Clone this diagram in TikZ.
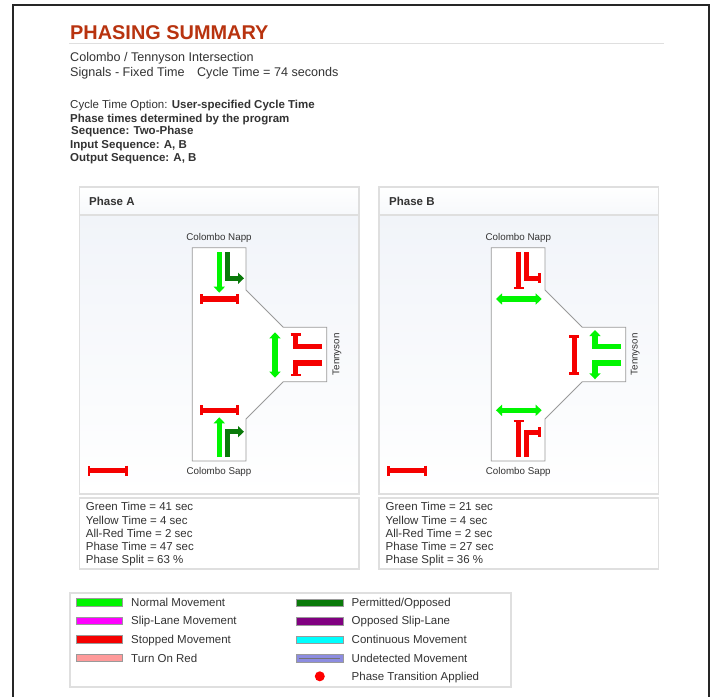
\documentclass[tikz,border=0pt]{standalone}
\usepackage{fontspec}
\setmainfont{Liberation Sans}
\usetikzlibrary{arrows.meta}
\definecolor{titlered}{HTML}{B8330F}
\definecolor{textgrey}{HTML}{333333}
\definecolor{edgegrey}{HTML}{DFDFDF}
\definecolor{roadgrey}{HTML}{9A9A9A}
\definecolor{paleblue}{HTML}{F1F4F9}
\definecolor{normalgreen}{HTML}{00F500}
\definecolor{permitgreen}{HTML}{0A7A0A}
\definecolor{stopred}{HTML}{F50000}
\definecolor{turnred}{HTML}{FF9A9A}
\definecolor{undetblue}{HTML}{8C8CE0}
\definecolor{sliplane}{HTML}{FF00FF}
\definecolor{opposedslip}{HTML}{800080}
\definecolor{contcyan}{HTML}{00FFFF}
\tikzset{
  label/.style={anchor=base west,inner sep=0pt,text=textgrey,font=\fontsize{12.6}{14}\selectfont},
  info/.style={anchor=base west,inner sep=0pt,text=textgrey,font=\fontsize{11.5}{13}\selectfont},
  head/.style={anchor=base west,inner sep=0pt,text=textgrey,font=\fontsize{11.5}{13}\selectfont\bfseries},
  road/.style={anchor=base,inner sep=0pt,text=textgrey,font=\fontsize{9.8}{12}\selectfont},
  panel/.style={draw=edgegrey,line width=1.3pt},
  junction/.style={draw=roadgrey,fill=white,line width=0.8pt},
  go/.style={line width=5.4pt,normalgreen,>={Triangle[length=6pt,width=11pt]}},
  permit/.style={line width=5.4pt,permitgreen,>={Triangle[length=6pt,width=11pt]}},
  stopbar/.style={line width=5.2pt,stopred,{Bar[width=10pt,line width=2.6pt]}-{Bar[width=10pt,line width=2.6pt]}},
  stopend/.style={line width=5.2pt,stopred,-{Bar[width=10pt,line width=2.6pt]}},
  swatch/.style={draw=roadgrey,line width=0.7pt}
}
\begin{document}
\begin{tikzpicture}[x=1pt,y=-1pt,line join=miter]
\useasboundingbox (0,0) rectangle (716,697);
\fill[white] (0,0) rectangle (716,697);
\draw[line width=2pt,black!85] (13.3,697) -- (13.3,5) -- (709.3,5) -- (709.3,697);
% heading
\node[anchor=base west,inner sep=0pt,text=titlered,font=\fontsize{19.9}{22}\selectfont\bfseries] (title) at (70,39.5) {PHASING SUMMARY};
\draw[line width=1pt,edgegrey] (69,43.5) -- (664,43.5);
\node[label] (site) at (70,61) {Colombo / Tennyson Intersection};
\node[label] (signals) at (70,76) {Signals - Fixed Time\hspace{1em}Cycle Time = 74 seconds};
\node[info] (option) at (70,108.3) {Cycle Time Option: \textbf{User-specified Cycle Time}};
\node[info] (times) at (70,122.3) {\textbf{Phase times determined by the program}};
\node[info] (sequence) at (71,134.3) {\textbf{Sequence: Two-Phase}};
\node[info] (input) at (70,148.3) {\textbf{Input Sequence: A, B}};
\node[info] (output) at (70,161) {\textbf{Output Sequence: A, B}};
% phase A
\draw[panel,top color=paleblue,bottom color=white] (79.5,215) rectangle (359,494);
\draw[panel,top color=white,bottom color=paleblue!60] (79.5,187) rectangle (359,215);
\node[head] (headA) at (89,205.7) {Phase A};
\draw[junction] (192.3,247.7) -- (246,247.7) -- (246,290) -- (283.3,327.3) -- (326.7,327.3) -- (326.7,381.7) -- (283.3,381.7) -- (246,419) -- (246,461) -- (192.3,461) -- cycle;
\node[road] (nappA) at (219,240.7) {Colombo Napp};
\node[road] (sappA) at (219,474.3) {Colombo Sapp};
\node[road,rotate=90] (tenA) at (339.3,354.3) {Tennyson};
\draw[go,->] (219.3,252.3) -- (219.3,292.7);
\draw[permit,->] (227.3,252.3) -- (227.3,278.3) -- (244,278.3);
\draw[stopbar] (200,299) -- (238.7,299);
\draw[go,<->] (275,332.3) -- (275,377.7);
\draw[stopend] (322,346.3) -- (295.7,346.3) -- (295.7,333.3);
\draw[stopend] (322,363) -- (295.7,363) -- (295.7,376.3);
\draw[stopbar] (200,410.3) -- (238.7,410.3);
\draw[go,->] (219.3,457) -- (219.3,417.3);
\draw[permit,->] (227.3,457) -- (227.3,431.7) -- (244,431.7);
\draw[stopbar] (87.8,470.7) -- (127.5,470.7);
\draw[panel] (79.5,498) rectangle (359,569);
\node[info] (greenA) at (85.7,510.3) {Green Time = 41 sec};
\node[info] (yellowA) at (85.7,524.3) {Yellow Time = 4 sec};
\node[info] (allredA) at (85.7,537.7) {All-Red Time = 2 sec};
\node[info] (phaseA) at (85.7,550) {Phase Time = 47 sec};
\node[info] (splitA) at (85.7,563.7) {Phase Split = 63 \%};
% phase B
\draw[panel,top color=paleblue,bottom color=white] (379,215) rectangle (658.5,494);
\draw[panel,top color=white,bottom color=paleblue!60] (379,187) rectangle (658.5,215);
\node[head] (headB) at (389,205.7) {Phase B};
\draw[junction] (491.3,247.7) -- (545,247.7) -- (545,290) -- (582.3,327.3) -- (625.7,327.3) -- (625.7,381.7) -- (582.3,381.7) -- (545,419) -- (545,461) -- (491.3,461) -- cycle;
\node[road] (nappB) at (518.3,240.7) {Colombo Napp};
\node[road] (sappB) at (518.3,474.3) {Colombo Sapp};
\node[road,rotate=90] (tenB) at (637.7,354.3) {Tennyson};
\draw[stopend] (518.7,252.3) -- (518.7,289.3);
\draw[stopend] (526.7,252.3) -- (526.7,278.3) -- (540.7,278.3);
\draw[go,<->] (496,299) -- (541.7,299);
\draw[stopbar] (574.3,335) -- (574.3,375);
\draw[go,->] (621,346.3) -- (595,346.3) -- (595,330);
\draw[go,->] (621,363) -- (595,363) -- (595,379.3);
\draw[go,<->] (496,410.3) -- (541.7,410.3);
\draw[stopend] (518.7,457) -- (518.7,419.7);
\draw[stopend] (526.7,457) -- (526.7,432.3) -- (540.7,432.3);
\draw[stopbar] (387.3,470.7) -- (427,470.7);
\draw[panel] (379,498) rectangle (658.5,569);
\node[info] (greenB) at (385.5,510.3) {Green Time = 21 sec};
\node[info] (yellowB) at (385.5,524.3) {Yellow Time = 4 sec};
\node[info] (allredB) at (385.5,537.7) {All-Red Time = 2 sec};
\node[info] (phaseB) at (385.5,550) {Phase Time = 27 sec};
\node[info] (splitB) at (385.5,563.7) {Phase Split = 36 \%};
% legend
\draw[panel] (70,593) rectangle (511,687);
\draw[swatch,fill=normalgreen] (76,598.5) rectangle (122.7,606.3);
\node[info] (normal) at (131,606.7) {Normal Movement};
\draw[swatch,fill=sliplane] (76,617) rectangle (122.7,624.8);
\node[info] (slip) at (131,624.3) {Slip-Lane Movement};
\draw[swatch,fill=stopred] (76,635.5) rectangle (122.7,643.3);
\node[info] (stopped) at (131,643.7) {Stopped Movement};
\draw[swatch,fill=turnred] (76,654) rectangle (122.7,661.8);
\node[info] (turn) at (131,662.3) {Turn On Red};
\draw[swatch,fill=permitgreen] (296.3,599) rectangle (343,606.8);
\node[info] (permitted) at (351.5,606.7) {Permitted/Opposed};
\draw[swatch,fill=opposedslip] (296.3,617.3) rectangle (343,625);
\node[info] (opposed) at (351.5,624.3) {Opposed Slip-Lane};
\draw[swatch,fill=contcyan] (296.3,636) rectangle (343,643.8);
\node[info] (continuous) at (351.5,643.7) {Continuous Movement};
\draw[swatch,fill=undetblue] (296.3,654) rectangle (343,662.5);
\draw[line width=1.2pt,black!55] (299,658.2) -- (340,658.2);
\node[info] (undetected) at (351.5,662.3) {Undetected Movement};
\fill[red] (319.8,676.3) circle (5pt);
\node[info] (transition) at (351.5,680) {Phase Transition Applied};
\end{tikzpicture}
\end{document}
